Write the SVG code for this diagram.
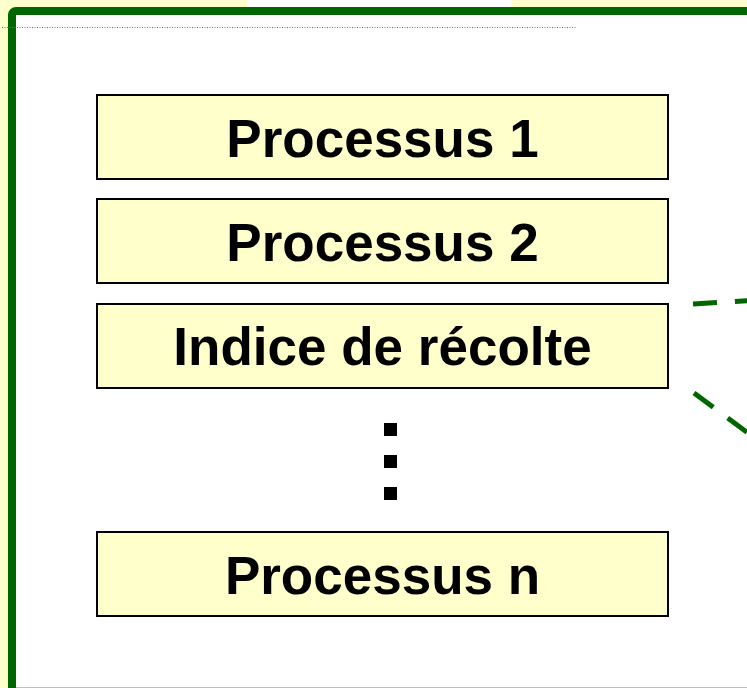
<svg xmlns="http://www.w3.org/2000/svg" width="747" height="688" viewBox="0 0 747 688">
  <style>
    .box { fill: #FFFFCC; stroke: #000000; stroke-width: 2; }
    .label { font-family: "Liberation Sans", Arial, sans-serif; font-weight: bold; font-size: 53px; fill: #000000; text-anchor: middle; }
    .dash { fill: none; stroke: #006600; stroke-width: 5; stroke-dasharray: 24 18; }
    .dot { fill: #000000; }
  </style>

  <!-- page background -->
  <rect x="0" y="0" width="747" height="688" fill="#FFFFCC"/>
  <rect x="247" y="0" width="264" height="8" fill="#FFFFFF"/>

  <!-- green frame with white panel -->
  <rect x="12" y="11" width="800" height="800" rx="4" ry="4" fill="#FFFFFF" stroke="#006600" stroke-width="8"/>
  <line x1="16" y1="687.5" x2="747" y2="687.5" stroke="#A8CBA8" stroke-width="1"/>
  <line x1="2" y1="27.5" x2="577" y2="27.5" stroke="#2E9460" stroke-width="1" stroke-dasharray="1 1.5"/>

  <g id="processus-1">
    <rect class="box" x="97" y="95" width="571" height="84"/>
    <text class="label" x="382.5" y="157">Processus 1</text>
  </g>
  <g id="processus-2">
    <rect class="box" x="97" y="199" width="571" height="84"/>
    <text class="label" x="382.5" y="261">Processus 2</text>
  </g>
  <g id="indice-recolte">
    <rect class="box" x="97" y="304" width="571" height="84"/>
    <text class="label" x="382.5" y="365">Indice de récolte</text>
  </g>
  <g id="ellipsis">
    <rect class="dot" x="384" y="423" width="13" height="13"/>
    <rect class="dot" x="384" y="455" width="13" height="13"/>
    <rect class="dot" x="384" y="487" width="13" height="13"/>
  </g>
  <g id="processus-n">
    <rect class="box" x="97" y="532" width="571" height="84"/>
    <text class="label" x="382.5" y="594">Processus n</text>
  </g>

  <g id="connectors">
    <line class="dash" x1="693" y1="304" x2="760" y2="300"/>
    <line class="dash" x1="694" y1="393" x2="760" y2="442"/>
  </g>
</svg>
